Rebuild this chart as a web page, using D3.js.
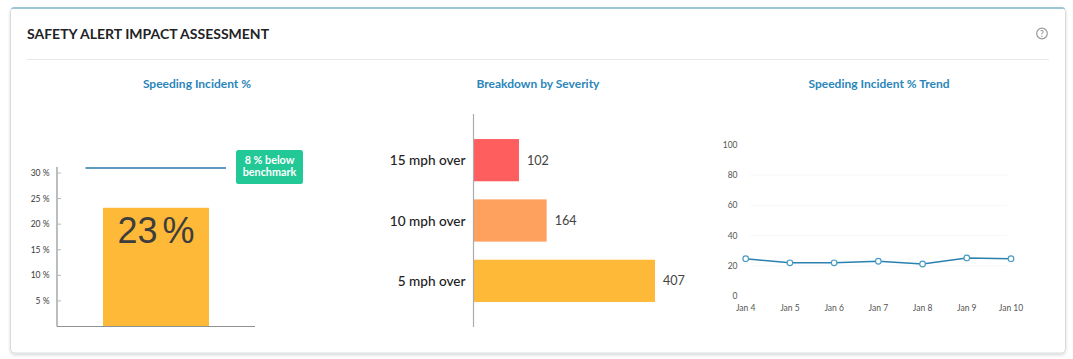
<!DOCTYPE html>
<html><head><meta charset="utf-8">
<script src="https://cdn.jsdelivr.net/npm/d3@7/dist/d3.min.js"></script>
<style>html,body{margin:0;padding:0;background:#fff;overflow:hidden}svg{display:block}text{font-family:Lato,sans-serif}</style>
</head><body><svg id="c" width="1073" height="359"></svg>
<script>
const title = "SAFETY ALERT IMPACT ASSESSMENT";
const panelTitles = ["Speeding Incident %", "Breakdown by Severity", "Speeding Incident % Trend"];
const incidentValue = 23.2;
const incidentLabel = "23 %";
const benchmarkValue = 31;
const benchmarkNote = ["8 % below", "benchmark"];
const incidentTicks = [5, 10, 15, 20, 25, 30];
const severityCategories = ["15 mph over", "10 mph over", "5 mph over"];
const severityValues = [102, 164, 407];
const severityColors = ["#ff5e5e", "#ffa15e", "#ffb938"];
const trendDates = ["Jan 4", "Jan 5", "Jan 6", "Jan 7", "Jan 8", "Jan 9", "Jan 10"];
const trendValues = [24.7, 22, 22, 23, 21.2, 25.2, 24.7];
const trendTicks = [0, 20, 40, 60, 80, 100];

const svg = d3.select("#c");
const defs = svg.append("defs");
const f = defs.append("filter").attr("id","sh").attr("x","-2%").attr("y","-5%").attr("width","104%").attr("height","110%");
f.append("feDropShadow").attr("dx",0).attr("dy",1.5).attr("stdDeviation",1.5).attr("flood-color","#000").attr("flood-opacity",0.16);
const clip = defs.append("clipPath").attr("id","cardClip");
clip.append("rect").attr("x",10.5).attr("y",7).attr("width",1055).attr("height",346).attr("rx",4);

svg.append("rect").attr("x",10.5).attr("y",7.5).attr("width",1055).attr("height",345.5).attr("rx",4)
  .attr("fill","#fff").attr("stroke","#d9dcde").attr("filter","url(#sh)");
svg.append("rect").attr("x",10.5).attr("y",7).attr("width",1055).attr("height",2).attr("fill","#9cc7d9").attr("clip-path","url(#cardClip)");

svg.append("text").attr("x",27).attr("y",38.5).attr("font-size",14).attr("font-weight",700).attr("fill","#1f2326").text(title);
svg.append("line").attr("x1",27).attr("x2",1049).attr("y1",59.5).attr("y2",59.5).attr("stroke","#e6e9eb");
const help = svg.append("g").attr("transform","translate(1042,33.5)");
help.append("circle").attr("r",5.3).attr("fill","none").attr("stroke","#9a9a9a").attr("stroke-width",1.2);
help.append("text").attr("text-anchor","middle").attr("y",3).attr("font-size",8.5).attr("font-weight",700).attr("fill","#9a9a9a").text("?");

[197, 538, 879].forEach((x,i)=>{
  svg.append("text").attr("x",x).attr("y",88).attr("text-anchor","middle").attr("font-size",12)
    .attr("font-weight",700).attr("fill","#2a86ba").text(panelTitles[i]);
});

// Panel 1
const y1 = d3.scaleLinear().domain([0,30]).range([326.5,173]);
const g1 = svg.append("g");
g1.append("rect").attr("x",103).attr("width",106).attr("y",y1(incidentValue)).attr("height",y1(0)-y1(incidentValue)).attr("fill","#ffb938");
g1.append("line").attr("x1",57).attr("x2",57).attr("y1",167).attr("y2",326.5).attr("stroke","#8e9294").attr("stroke-width",1.2);
g1.append("line").attr("x1",57).attr("x2",255).attr("y1",326.5).attr("y2",326.5).attr("stroke","#8e9294").attr("stroke-width",1.2);
incidentTicks.forEach(t=>{
  g1.append("line").attr("x1",57).attr("x2",61).attr("y1",y1(t)).attr("y2",y1(t)).attr("stroke","#b5b8ba");
  g1.append("text").attr("x",49.5).attr("y",y1(t)+3).attr("text-anchor","end").attr("font-size",8.5).attr("fill","#3a3a3a").text(t+" %");
});
g1.append("line").attr("x1",85.5).attr("x2",226).attr("y1",y1(benchmarkValue)).attr("y2",y1(benchmarkValue)).attr("stroke","#2a78a8").attr("stroke-width",1.5);
g1.append("text").attr("x",156).attr("y",243).attr("text-anchor","middle").attr("font-size",36)
  .attr("word-spacing",-5).style("font-family","'Liberation Sans',sans-serif").attr("fill","#3d3d3d").text(incidentLabel);
g1.append("rect").attr("x",236).attr("y",150).attr("width",67).attr("height",34).attr("rx",2.5).attr("fill","#22c896");
benchmarkNote.forEach((s,i)=>g1.append("text").attr("x",269.5).attr("y",164+i*12).attr("text-anchor","middle")
  .attr("font-size",10.8).attr("font-weight",700).attr("fill","#fff").text(s));

// Panel 2
const x2 = d3.scaleLinear().domain([0,407]).range([473.5,655]);
const y2 = d3.scaleBand().domain(severityCategories).range([130,311]).paddingInner(0.3).paddingOuter(0.15);
const g2 = svg.append("g");
g2.selectAll("rect").data(severityCategories).join("rect")
  .attr("x",x2(0)).attr("y",d=>y2(d)).attr("height",y2.bandwidth())
  .attr("width",(d,i)=>x2(severityValues[i])-x2(0)).attr("fill",(d,i)=>severityColors[i]);
g2.append("line").attr("x1",473.5).attr("x2",473.5).attr("y1",114).attr("y2",327).attr("stroke","#a9acae").attr("stroke-width",1.2);
g2.selectAll("text.c").data(severityCategories).join("text").attr("class","c")
  .attr("x",465.5).attr("y",d=>y2(d)+y2.bandwidth()/2+5).attr("text-anchor","end").attr("font-size",13.6).attr("font-weight",500).attr("fill","#222").text(d=>d);
g2.selectAll("text.v").data(severityCategories).join("text").attr("class","v")
  .attr("x",(d,i)=>x2(severityValues[i])+8).attr("y",d=>y2(d)+y2.bandwidth()/2+4.5).attr("font-size",12.6).attr("fill","#444").text((d,i)=>severityValues[i]);

// Panel 3
const x3 = d3.scalePoint().domain(trendDates).range([745.7,1011]);
const y3 = d3.scaleLinear().domain([0,100]).range([296,145]);
const g3 = svg.append("g");
trendTicks.forEach(t=>{
  if(t>0 && t<100) g3.append("line").attr("x1",750).attr("x2",1007).attr("y1",y3(t)).attr("y2",y3(t)).attr("stroke","#f7f8f9");
  g3.append("text").attr("x",737.5).attr("y",y3(t)+3).attr("text-anchor","end").attr("font-size",8.5).attr("fill","#555").text(t);
});
trendDates.forEach(d=>g3.append("text").attr("x",x3(d)).attr("y",311).attr("text-anchor","middle").attr("font-size",8.5).attr("fill","#555").text(d));
const line = d3.line().x((d,i)=>x3(trendDates[i])).y(d=>y3(d));
g3.append("path").attr("d",line(trendValues)).attr("fill","none").attr("stroke","#2a80b0").attr("stroke-width",1.5);
g3.selectAll("circle").data(trendValues).join("circle").attr("cx",(d,i)=>x3(trendDates[i])).attr("cy",d=>y3(d)).attr("r",2.8)
  .attr("fill","#fff").attr("stroke","#4a9cc4").attr("stroke-width",1.2);
</script></body></html>
